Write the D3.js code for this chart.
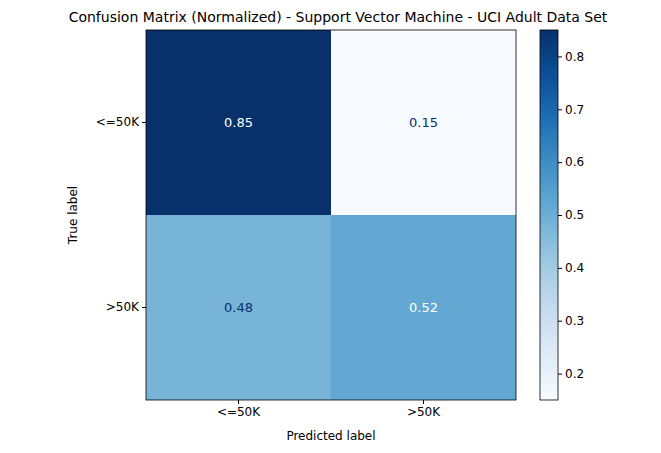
<!DOCTYPE html>
<html><head><meta charset="utf-8">
<script src="https://cdn.jsdelivr.net/npm/d3@7"></script>
<style>body{margin:0;background:#fff}text{font-family:"DejaVu Sans",sans-serif}</style>
</head><body><svg id="plot" width="661" height="453"></svg>
<script>
(function() {
var labels = ["<=50K", ">50K"];
var matrix = [[0.85, 0.15], [0.48, 0.52]];
var cbTicks = [0.2, 0.3, 0.4, 0.5, 0.6, 0.7, 0.8];
var title = "Confusion Matrix (Normalized) - Support Vector Machine - UCI Adult Data Set";

var svg = d3.select("#plot");
var mleft = 146, mtop = 30, size = 370;
var vmin = 0.15, vmax = 0.85;
var color = function(v) { return d3.interpolateBlues((v - vmin) / (vmax - vmin)); };

var x = d3.scaleBand().domain(labels).range([mleft, mleft + size]);
var y = d3.scaleBand().domain(labels).range([mtop, mtop + size]);

var cells = [];
matrix.forEach(function(row, i) {
    row.forEach(function(v, j) { cells.push({r: labels[i], c: labels[j], v: v}); });
});

svg.selectAll("rect.cell").data(cells).enter().append("rect")
    .attr("x", function(d) { return x(d.c); })
    .attr("y", function(d) { return y(d.r); })
    .attr("width", x.bandwidth()).attr("height", y.bandwidth())
    .attr("fill", function(d) { return color(d.v); });

svg.selectAll("text.val").data(cells).enter().append("text")
    .attr("x", function(d) { return x(d.c) + x.bandwidth() / 2; })
    .attr("y", function(d) { return y(d.r) + y.bandwidth() / 2; })
    .attr("dy", "0.35em").attr("text-anchor", "middle").attr("font-size", 13)
    .attr("fill", function(d) { return d.v > (vmin + vmax) / 2 ? "#fff" : "#08306b"; })
    .text(function(d) { return d.v.toFixed(2); });

svg.append("rect").attr("x", mleft).attr("y", mtop).attr("width", size).attr("height", size)
    .attr("fill", "none").attr("stroke", "#000").attr("stroke-width", 0.8);

var gx = svg.append("g").attr("transform", "translate(0," + (mtop + size) + ")")
    .call(d3.axisBottom(x).tickSizeOuter(0).tickSize(4));
var gy = svg.append("g").attr("transform", "translate(" + mleft + ",0)")
    .call(d3.axisLeft(y).tickSizeOuter(0).tickSize(4));
[gx, gy].forEach(function(g) {
    g.select(".domain").remove();
    g.selectAll("text").attr("font-size", 12).attr("fill", "#000");
});

svg.append("text").attr("x", mleft + size / 2).attr("y", 440).attr("text-anchor", "middle")
    .attr("font-size", 12).text("Predicted label");
svg.append("text").attr("transform", "translate(77," + (mtop + size / 2) + ") rotate(-90)")
    .attr("text-anchor", "middle").attr("font-size", 12).text("True label");
svg.append("text").attr("x", 338).attr("y", 22).attr("text-anchor", "middle")
    .attr("font-size", 14).text(title);

// colorbar
var cbx = 540, cbw = 18;
var cy = d3.scaleLinear().domain([vmin, vmax]).range([mtop + size, mtop]);
var grad = svg.append("defs").append("linearGradient").attr("id", "cb")
    .attr("x1", 0).attr("y1", 1).attr("x2", 0).attr("y2", 0);
d3.range(0, 1.0001, 0.05).forEach(function(t) {
    grad.append("stop").attr("offset", t).attr("stop-color", d3.interpolateBlues(t));
});
svg.append("rect").attr("x", cbx).attr("y", mtop).attr("width", cbw).attr("height", size)
    .attr("fill", "url(#cb)").attr("stroke", "#000").attr("stroke-width", 0.8);
var gc = svg.append("g").attr("transform", "translate(" + (cbx + cbw) + ",0)")
    .call(d3.axisRight(cy).tickValues(cbTicks).tickFormat(d3.format(".1f")).tickSize(4));
gc.select(".domain").remove();
gc.selectAll("text").attr("font-size", 12).attr("fill", "#000");
})();
</script></body></html>
